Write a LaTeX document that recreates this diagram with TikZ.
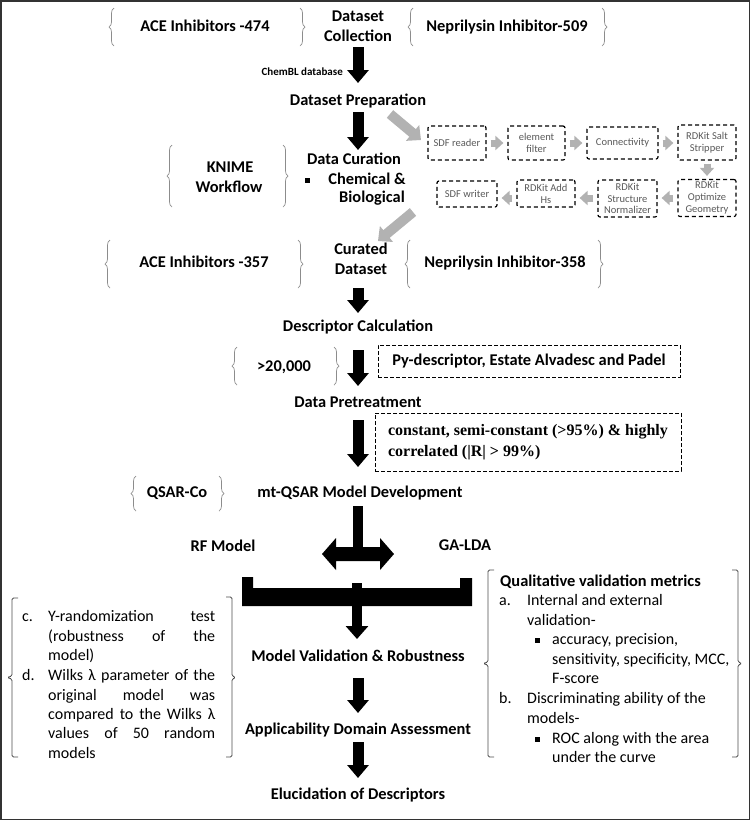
\documentclass[tikz,border=0pt]{standalone}
\usepackage{fontspec}
\setmainfont{Carlito}
\newfontfamily\timesf{Liberation Serif}
\usetikzlibrary{arrows.meta,decorations.pathreplacing}
\begin{document}
\begin{tikzpicture}[x=1pt,y=-1pt,
  lbl/.style={font=\fontsize{16.4}{19.6}\selectfont\bfseries, inner sep=0, text height=12pt, text depth=3pt},
  txt/.style={font=\fontsize{16}{19.6}\selectfont, inner sep=0, text height=12pt, text depth=3pt, anchor=west},
  blk/.style={line width=11pt, -{Triangle[width=21pt,length=13pt]}, black},
  gar/.style={line width=7pt, -{Triangle[width=14pt,length=8pt]}, black!30},
  wf/.style={draw, dash pattern=on 4pt off 3pt, rounded corners=2pt, line width=1.2pt,
    font=\fontsize{10.5}{11.8}\selectfont, text=black!65, align=center, inner sep=0},
  dbox/.style={draw, dash pattern=on 4pt off 2pt, line width=0.9pt, inner sep=0},
  brc/.style={decorate, decoration={brace, amplitude=5pt}, black!45, line width=0.7pt},
  brk/.style={black!70, line width=0.8pt, rounded corners=1.5pt},
  bul/.style={fill=black, minimum size=5pt, inner sep=0}
]
\useasboundingbox (0,0) rectangle (750,820);
\draw[black!80, line width=1.5pt] (0.75,0.75) rectangle (749.25,819.25);

% ---- top row
\node[lbl] (dc1) at (358,17) {Dataset};
\node[lbl] (dc2) at (358,37) {Collection};
\node[lbl] (ace1) at (205,27) {ACE Inhibitors -474};
\node[lbl] (nep1) at (507,27) {Neprilysin Inhibitor-509};
\draw[brc] (114,46) -- (114,8);
\draw[brc] (300,8) -- (300,46);
\draw[brc] (413,46) -- (413,8);
\draw[brc] (602,8) -- (602,46);

\coordinate (a1s) at (358,47); \coordinate (a1e) at (358,83);
\draw[blk] (a1s) -- (a1e);
\node[font=\fontsize{11}{13}\selectfont\bfseries, inner sep=0, anchor=east] (chembl) at (343,72) {ChemBL database};

\node[lbl] (prep) at (358,101) {Dataset Preparation};
\coordinate (a2s) at (358,112); \coordinate (a2e) at (358,150);
\draw[blk] (a2s) -- (a2e);
\coordinate (g1s) at (390,114); \coordinate (g1e) at (421,140);
\draw[gar, line width=10pt, -{Triangle[width=20pt,length=11pt]}] (g1s) -- (g1e);

% ---- curation
\node[lbl] (cur) at (354,160) {Data Curation};
\node[bul] (bc) at (307,180) {};
\node[lbl] (chem) at (367,180) {Chemical \&};
\node[lbl] (bio) at (372,198) {Biological};
\node[lbl] (kn1) at (230,168) {KNIME};
\node[lbl] (kn2) at (229,188) {Workflow};
\draw[brc] (172,207) -- (172,145);
\draw[brc] (283,145) -- (283,207);

% ---- KNIME workflow
\node[wf, minimum width=58pt, minimum height=34pt] (wf1) at (457,143) {SDF reader};
\node[wf, minimum width=57pt, minimum height=34pt] (wf2) at (536.5,143) {element\\filter};
\node[wf, minimum width=71pt, minimum height=32pt] (wf3) at (622.5,143) {Connectivity};
\node[wf, minimum width=58pt, minimum height=35pt] (wf4) at (707,142.5) {RDKit Salt\\Stripper};
\node[wf, minimum width=58pt, minimum height=37pt] (wf5) at (707,198) {RDKit\\Optimize\\Geometry};
\node[wf, minimum width=59pt, minimum height=37pt] (wf6) at (627.5,198.5) {RDKit\\Structure\\Normalizer};
\node[wf, minimum width=58pt, minimum height=27pt] (wf7) at (546,193.5) {RDKit Add\\Hs};
\node[wf, minimum width=60pt, minimum height=26pt] (wf8) at (467,194) {SDF writer};
\draw[gar, shorten <=4pt, shorten >=4pt] (wf1) -- (wf2);
\draw[gar, shorten <=4pt, shorten >=4pt] (wf2) -- (wf3);
\draw[gar, shorten <=4pt, shorten >=4pt] (wf3.east) -- (wf3.east -| wf4.west);
\draw[gar, shorten <=3pt, shorten >=3pt] (wf4) -- (wf5);
\draw[gar, shorten <=4pt, shorten >=4pt] (wf5.west) -- (wf5.west -| wf6.east);
\draw[gar, shorten <=4pt, shorten >=4pt] (wf5.west -| wf6.west) -- (wf5.west -| wf7.east);
\draw[gar, shorten <=4pt, shorten >=4pt] (wf5.west -| wf7.west) -- (wf5.west -| wf8.east);

\coordinate (g2s) at (413,212); \coordinate (g2e) at (378,241);
\draw[gar, line width=10pt, -{Triangle[width=20pt,length=11pt]}] (g2s) -- (g2e);

% ---- curated dataset
\node[lbl] (cd1) at (361,250) {Curated};
\node[lbl] (cd2) at (361,270) {Dataset};
\node[lbl] (ace2) at (204,263) {ACE Inhibitors -357};
\node[lbl] (nep2) at (505,263) {Neprilysin Inhibitor-358};
\draw[brc] (110,288) -- (110,240);
\draw[brc] (298,240) -- (298,288);
\draw[brc] (410,288) -- (410,240);
\draw[brc] (598,240) -- (598,288);

\coordinate (a3s) at (358,288); \coordinate (a3e) at (358,313);
\draw[blk] (a3s) -- (a3e);

% ---- descriptors
\node[lbl] (desc) at (358,327) {Descriptor Calculation};
\node[lbl] (n20) at (284,367) {>20,000};
\draw[brc] (237,385) -- (237,347);
\draw[brc] (334,347) -- (334,385);
\coordinate (a4s) at (358,350); \coordinate (a4e) at (358,386);
\draw[blk] (a4s) -- (a4e);
\node[dbox, minimum width=302pt, minimum height=32pt, font=\fontsize{16.4}{19.6}\selectfont\bfseries] (py) at (529,361) {Py-descriptor, Estate Alvadesc and Padel};

\node[lbl] (pret) at (358,403) {Data Pretreatment};
\node[dbox, minimum width=306pt, minimum height=58pt, align=left, font=\fontsize{16}{21}\timesf\bfseries] (cst) at (528,442) {constant, semi-constant (>95\%) \& highly\\correlated (|R| > 99\%)};
\coordinate (a5s) at (358,420); \coordinate (a5e) at (358,467);
\draw[blk] (a5s) -- (a5e);

% ---- model development
\node[lbl] (qsar) at (177,493) {QSAR-Co};
\draw[brc] (136,511) -- (136,476);
\draw[brc] (219,476) -- (219,511);
\node[lbl] (mtq) at (360,493) {mt-QSAR Model Development};

\fill (353,506) rectangle (363,548);
\fill (322,554) -- (336,538) -- (336,547) -- (380,547) -- (380,538) -- (394,554)
  -- (380,570) -- (380,561) -- (336,561) -- (336,570) -- cycle;
\node[lbl] (rf) at (223,547) {RF Model};
\node[lbl] (ga) at (465,546) {GA-LDA};

\fill (242,577) -- (253,577) -- (253,588) -- (460,588) -- (460,578) -- (472,578)
  -- (472,606) -- (242,606) -- cycle;
\fill (352,583) rectangle (362,588);
\coordinate (a6s) at (357,605); \coordinate (a6e) at (357,639);
\draw[blk, line width=10pt, -{Triangle[width=22pt,length=13pt]}] (a6s) -- (a6e);

\node[lbl] (mv) at (358,657) {Model Validation \& Robustness};
\coordinate (a7s) at (358,678); \coordinate (a7e) at (358,713);
\draw[blk] (a7s) -- (a7e);
\node[lbl] (ad) at (358,730) {Applicability Domain Assessment};
\coordinate (a8s) at (358,742); \coordinate (a8e) at (358,778);
\draw[blk] (a8s) -- (a8e);
\node[lbl] (el) at (358,795) {Elucidation of Descriptors};

% ---- left bracket block
\draw[brk] (18,598) -- (12,598) -- (12,676) -- (7,677.5) -- (12,679) -- (12,757) -- (18,757);
\draw[brk] (226,597) -- (232,597) -- (232,676) -- (236,677.5) -- (232,679) -- (232,757) -- (226,757);
\node[txt] (lc) at (22,617) {c.};
\node[txt] (l1) at (48,617) {\makebox[167pt][s]{Y-randomization test}};
\node[txt] (l2) at (48,637) {\makebox[167pt][s]{(robustness of the}};
\node[txt] (l3) at (48,656) {model)};
\node[txt] (ld) at (22,676) {d.};
\node[txt] (l4) at (48,676) {\makebox[167pt][s]{Wilks λ parameter of the}};
\node[txt] (l5) at (48,696) {\makebox[167pt][s]{original model was}};
\node[txt] (l6) at (48,715) {\makebox[167pt][s]{compared to the Wilks λ}};
\node[txt] (l7) at (48,734) {\makebox[167pt][s]{values of 50 random}};
\node[txt] (l8) at (48,754) {models};

% ---- right bracket block
\draw[brk] (494,570) -- (488,570) -- (488,662) -- (483,663.5) -- (488,665) -- (488,757) -- (494,757);
\draw[brk] (732,570) -- (738,570) -- (738,662) -- (742,663.5) -- (738,665) -- (738,757) -- (732,757);
\node[txt, font=\fontsize{16.4}{19.6}\selectfont\bfseries] (r0) at (500,582) {Qualitative validation metrics};
\node[txt] (ra) at (499,601) {a.};
\node[txt] (r1) at (527,601) {Internal and external};
\node[txt] (r2) at (527,621) {validation-};
\node[bul] (b1) at (537,640) {};
\node[txt] (r3) at (552,640) {accuracy, precision,};
\node[txt] (r4) at (552,660) {sensitivity, specificity, MCC,};
\node[txt] (r5) at (552,679) {F-score};
\node[txt] (rb) at (499,699) {b.};
\node[txt] (r6) at (527,699) {Discriminating ability of the};
\node[txt] (r7) at (527,719) {models-};
\node[bul] (b2) at (537,739) {};
\node[txt] (r8) at (552,739) {ROC along with the area};
\node[txt] (r9) at (552,758) {under the curve};
\end{tikzpicture}
\end{document}
